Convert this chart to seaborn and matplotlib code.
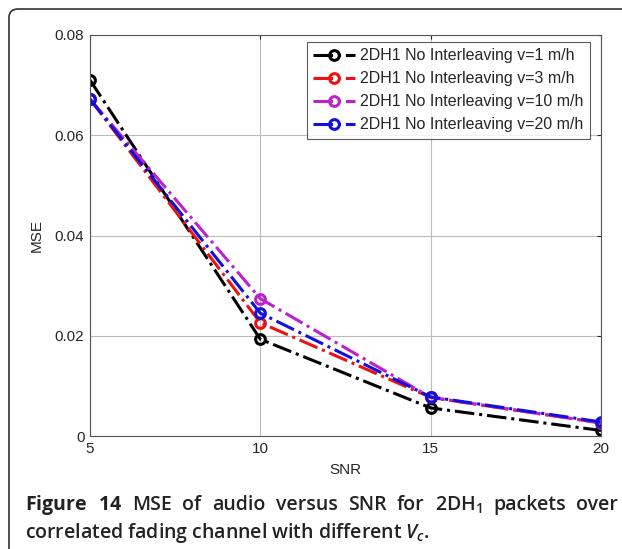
import matplotlib
matplotlib.use("Agg")
import matplotlib.pyplot as plt
import seaborn as sns
import pandas as pd
from matplotlib.patches import FancyBboxPatch

snr = [5, 10, 15, 20]
mse_v1 = [0.0710, 0.0193, 0.0056, 0.0011]
mse_v3 = [0.0672, 0.0226, 0.0077, 0.0026]
mse_v10 = [0.0672, 0.0274, 0.0077, 0.0026]
mse_v20 = [0.0672, 0.0245, 0.0078, 0.0028]
labels = ["2DH1 No Interleaving v=1 m/h", "2DH1 No Interleaving v=3 m/h",
          "2DH1 No Interleaving v=10 m/h", "2DH1 No Interleaving v=20 m/h"]
colors = ["#000000", "#ee1111", "#bb22cc", "#1111dd"]
x_ticks = [5, 10, 15, 20]
y_ticks = [0, 0.02, 0.04, 0.06, 0.08]
y_tick_labels = ["0", "0.02", "0.04", "0.06", "0.08"]

sns.set_style("white")
plt.rcParams['font.family'] = ['Liberation Sans', 'DejaVu Sans']
plt.rcParams['mathtext.fontset'] = 'custom'
plt.rcParams['mathtext.rm'] = 'Open Sans:semibold'
plt.rcParams['mathtext.it'] = 'Open Sans:italic:semibold'
plt.rcParams['mathtext.bf'] = 'Open Sans:bold'

fig = plt.figure(figsize=(6.22, 5.49), dpi=100)
ax = fig.add_axes([90/622, 1-436/549, (601-90)/622, (436-35)/549])

series = [mse_v1, mse_v3, mse_v10, mse_v20]
for vals, lab, col in zip(series, labels, colors):
    df = pd.DataFrame({"SNR": snr, "MSE": vals})
    sns.lineplot(data=df, x="SNR", y="MSE", ax=ax, color=col, label=lab,
                 linestyle="-.", linewidth=2.2, marker="o", markersize=7,
                 markerfacecolor="none", markeredgecolor=col, markeredgewidth=2.2)

ax.set_xlim(5, 20)
ax.set_ylim(0, 0.08)
ax.set_xticks(x_ticks)
ax.set_yticks(y_ticks)
ax.set_yticklabels(y_tick_labels)
ax.grid(True, color="#bbbbbb", linewidth=0.8)
ax.tick_params(direction="in", length=3, labelsize=11, pad=4,
               top=True, right=True)
for s in ax.spines.values():
    s.set_color("#555555")
    s.set_linewidth(0.8)
ax.set_xlabel("SNR", fontsize=11, labelpad=5)
ax.set_ylabel("MSE", fontsize=11, labelpad=8)

leg = ax.legend(loc="upper right", bbox_to_anchor=((590-90)/511, (436-42)/401),
                bbox_transform=ax.transAxes, borderaxespad=0, fontsize=11.5,
                frameon=True, fancybox=False, edgecolor="#333333",
                handlelength=2.6, handletextpad=0.35, labelspacing=0.5,
                borderpad=0.4)
leg.get_frame().set_linewidth(0.8)

border = FancyBboxPatch((9/622, -0.05), 1.2, 1 - 9/549 + 0.05,
                        boxstyle="round,pad=0,rounding_size=0.015",
                        transform=fig.transFigure, facecolor="none",
                        edgecolor="#333333", linewidth=1.2)
fig.patches.append(border)

# caption, first line justified between x=25 and x=618
renderer = fig.canvas.get_renderer()
words = [r"$\mathbf{Figure}$", r"$\mathbf{14}$", "MSE", "of", "audio", "versus",
         "SNR", "for", r"2DH$_1$", "packets", "over"]
cap_size = 14
tobjs = []
for w in words:
    t = fig.text(0, 1-505/549, w, fontsize=cap_size, family="Open Sans",
                 weight="semibold", va="center", ha="left", color="#222222")
    tobjs.append(t)
widths = [t.get_window_extent(renderer).width for t in tobjs]
x0, x1 = 25, 618
gap = (x1 - x0 - sum(widths)) / (len(words) - 1)
x = x0
for t, wdt in zip(tobjs, widths):
    t.set_x(x / 622)
    x += wdt + gap

fig.text(25/622, 1-533/549, r"correlated fading channel with different $V_c$.",
         fontsize=cap_size, family="Open Sans", weight="semibold",
         va="center", ha="left", color="#222222")

fig.savefig("out.png", dpi=100)
